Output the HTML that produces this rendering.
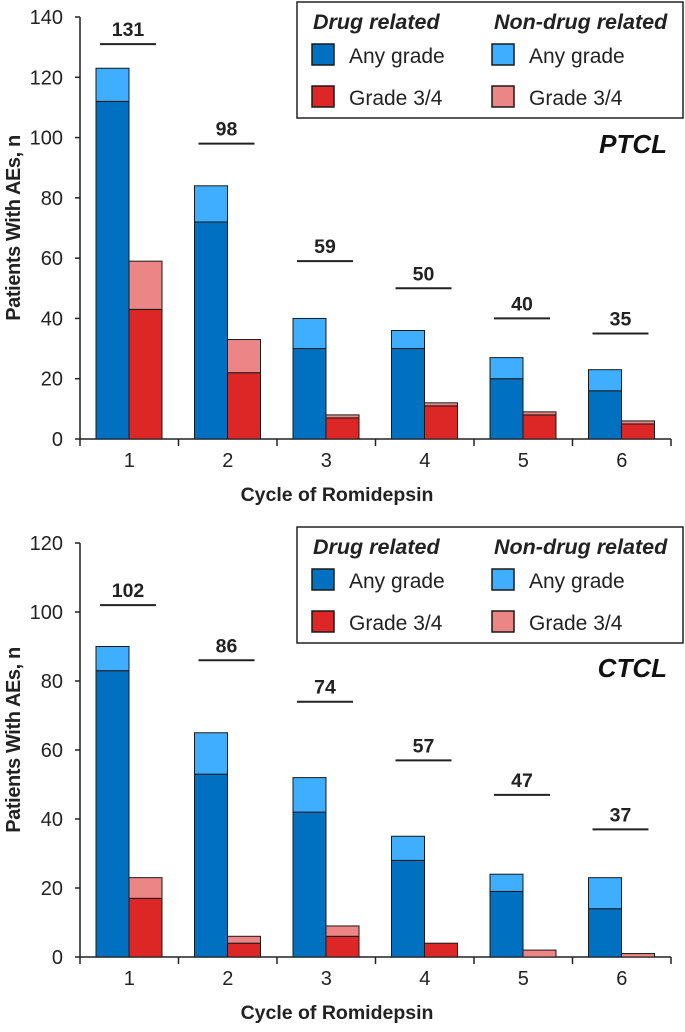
<!DOCTYPE html>
<html><head><meta charset="utf-8"><style>
body{margin:0;background:#fff;}
svg{display:block;font-family:"Liberation Sans",Arial,sans-serif;}
</style></head><body>
<svg id="c" width="685" height="1032"></svg>
<script>
const cycles=["1","2","3","4","5","6"];
const ptclDrugAny=[112,72,30,30,20,16];
const ptclTotalAny=[123,84,40,36,27,23];
const ptclDrugG34=[43,22,7,11,8,5];
const ptclTotalG34=[59,33,8,12,9,6];
const ptclN=[131,98,59,50,40,35];
const ptclTicks=[0,20,40,60,80,100,120,140];
const ctclDrugAny=[83,53,42,28,19,14];
const ctclTotalAny=[90,65,52,35,24,23];
const ctclDrugG34=[17,4,6,4,0,0];
const ctclTotalG34=[23,6,9,4,2,1];
const ctclN=[102,86,74,57,47,37];
const ctclTicks=[0,20,40,60,80,100,120];

const NS="http://www.w3.org/2000/svg";
const svg=document.getElementById('c');
function mk(tag,attrs,parent,text){const e=document.createElementNS(NS,tag);for(const k in attrs)e.setAttribute(k,attrs[k]);if(text!==undefined)e.textContent=text;(parent||svg).appendChild(e);return e;}

function panel(cfg){
  const g=mk('g',{});
  
  
  const x0=80,x1=671,catW=(x1-x0)/cycles.length;
  const y=v=>cfg.y0-(v/cfg.max)*(cfg.y0-cfg.yTop);
  const ax=mk('line',{x1:x0,y1:cfg.yTop,x2:x0,y2:cfg.y0,stroke:'#222','stroke-width':1.5},g);
  
  cfg.ticks.forEach(t=>{
    mk('line',{x1:x0-5,y1:y(t),x2:x0,y2:y(t),stroke:'#222','stroke-width':1.5},g);
    const tl=mk('text',{x:x0-17,y:y(t)+7,'text-anchor':'end','font-size':20,fill:'#222'},g,t);
    
  });
  const xa=mk('line',{x1:x0,y1:cfg.y0,x2:x1,y2:cfg.y0,stroke:'#222','stroke-width':1.5},g);
  
  for(let i=0;i<=cycles.length;i++){mk('line',{x1:x0+i*catW,y1:cfg.y0,x2:x0+i*catW,y2:cfg.y0+7,stroke:'#222','stroke-width':1.5},g);}
  const bw=33;
  cycles.forEach((c,i)=>{
    const cx=x0+i*catW;const bx=cx+16;
    const segs=[
      [bx,0,cfg.drugAny[i],'#0070c0','drug-any-grade'],
      [bx,cfg.drugAny[i],cfg.totAny[i],'#40aeff','nondrug-any-grade'],
      [bx+bw,0,cfg.drugG[i],'#dd2727','drug-grade34'],
      [bx+bw,cfg.drugG[i],cfg.totG[i],'#ec8585','nondrug-grade34']];
    segs.forEach(s=>{
      if(s[2]<=s[1])return;
      const r=mk('rect',{x:s[0],y:y(s[2]),width:bw,height:y(s[1])-y(s[2]),fill:s[3],stroke:'#1a1a1a','stroke-width':1},g);
      
      
    });
    const xl=mk('text',{x:cx+catW/2,y:cfg.y0+28,'text-anchor':'middle','font-size':20,fill:'#222'},g,c);
    
    const ly=y(cfg.n[i]);
    const nl=mk('line',{x1:cx+20,y1:ly,x2:cx+76,y2:ly,stroke:'#222','stroke-width':2},g);
    
    const nt=mk('text',{x:cx+48,y:ly-8,'text-anchor':'middle','font-size':19.5,'font-weight':'bold',fill:'#222'},g,cfg.n[i]);
    
  });
  const xt=mk('text',{x:337,y:cfg.y0+62,'text-anchor':'middle','font-size':19.5,'font-weight':'bold',fill:'#222'},g,'Cycle of Romidepsin');
  
  const yt=mk('text',{x:0,y:0,transform:`translate(20,${cfg.titleY}) rotate(-90)`,'text-anchor':'middle','font-size':20,'font-weight':'bold','letter-spacing':'-0.4',fill:'#222'},g,'Patients With AEs, n');
  
  const L=cfg.leg;
  const lg=mk('g',{},g);
  
  mk('rect',{x:297,y:L,width:386,height:116,fill:'#fff',stroke:'#222','stroke-width':1.5},lg);
  mk('text',{x:313,y:L+27,'font-size':21.5,'font-weight':'bold','font-style':'italic',fill:'#222'},lg,'Drug related');
  mk('text',{x:494,y:L+27,'font-size':21.5,'font-weight':'bold','font-style':'italic',fill:'#222'},lg,'Non-drug related');
  [[312,L+42,'#0070c0','Any grade'],[312,L+84,'#dd2727','Grade 3/4'],[492,L+42,'#40aeff','Any grade'],[492,L+84,'#ec8585','Grade 3/4']].forEach(e=>{
    const sw=mk('rect',{x:e[0],y:e[1],width:22,height:21,fill:e[2],stroke:'#1a1a1a','stroke-width':1.5},lg);
    
    const t=mk('text',{x:e[0]+37,y:e[1]+19,'font-size':21,fill:'#222'},lg,e[3]);
    
  });
  const pt=mk('text',{x:667,y:cfg.labelY,'text-anchor':'end','font-size':26,'font-weight':'bold','font-style':'italic',fill:'#111'},g,cfg.name.toUpperCase());
  
}
panel({name:'ptcl',yTop:17,y0:439,max:140,ticks:ptclTicks,drugAny:ptclDrugAny,totAny:ptclTotalAny,drugG:ptclDrugG34,totG:ptclTotalG34,n:ptclN,leg:2,labelY:153,titleY:228});
panel({name:'ctcl',yTop:543,y0:957,max:120,ticks:ctclTicks,drugAny:ctclDrugAny,totAny:ctclTotalAny,drugG:ctclDrugG34,totG:ctclTotalG34,n:ctclN,leg:527,labelY:677,titleY:740});
</script>
</body></html>
